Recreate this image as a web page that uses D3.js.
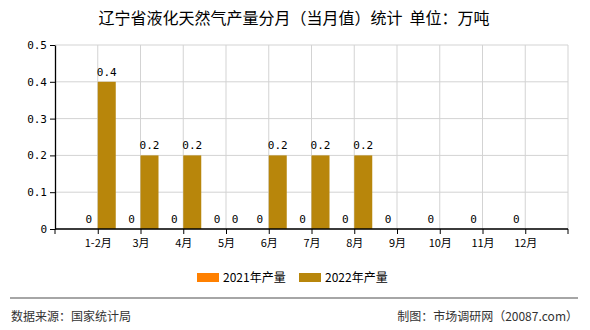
<!DOCTYPE html>
<html>
<head>
<meta charset="utf-8">
<script src="https://cdn.jsdelivr.net/npm/d3@7"></script>
<style>
  body { margin: 0; background: #fff; }
  text { font-family: "Noto Sans CJK SC", sans-serif; }
  .mono { font-family: "DejaVu Sans Mono", "Noto Sans CJK SC", monospace; }
</style>
</head>
<body>
<script>
const title = "辽宁省液化天然气产量分月（当月值）统计  单位：万吨";

var months = ["1-2月", "3月", "4月", "5月", "6月", "7月", "8月", "9月", "10月", "11月", "12月"];
var seriesNames = ["2021年产量", "2022年产量"];
var values2021 = [0, 0, 0, 0, 0, 0, 0, 0, 0, 0, 0];
var values2022 = [0.4, 0.2, 0.2, 0, 0.2, 0.2, 0.2];
var yTicks = [0, 0.1, 0.2, 0.3, 0.4, 0.5];
var colors = ["#ff8000", "#b8860b"];

var width = 590, height = 330;
var margin = {left: 55, right: 22, top: 45, bottom: 101};

var svg = d3.select("body").append("svg")
  .attr("width", width)
  .attr("height", height);

var x = d3.scalePoint()
  .domain(months)
  .range([margin.left, width - margin.right])
  .padding(1);

var y = d3.scaleLinear()
  .domain([0, 0.5])
  .range([height - margin.bottom, margin.top]);

var barW = 18;

// grid
var grid = svg.append("g");
grid.selectAll("line.h").data(yTicks).enter().append("line")
  .attr("x1", margin.left).attr("x2", width - margin.right)
  .attr("y1", d => y(d)).attr("y2", d => y(d))
  .attr("stroke", "#d3d3d3");
grid.selectAll("line.v").data(months).enter().append("line")
  .attr("x1", d => x(d)).attr("x2", d => x(d))
  .attr("y1", margin.top).attr("y2", y(0))
  .attr("stroke", "#d3d3d3");
grid.append("line")
  .attr("x1", width - margin.right).attr("x2", width - margin.right)
  .attr("y1", margin.top).attr("y2", y(0))
  .attr("stroke", "#d3d3d3");

// bars
var series = [values2021, values2022];
series.forEach(function(vals, s) {
  var g = svg.append("g");
  var data = vals.map((v, i) => ({m: months[i], v: v}));
  g.selectAll("rect").data(data).enter().append("rect")
    .attr("x", d => s === 0 ? x(d.m) - barW : x(d.m))
    .attr("y", d => y(d.v))
    .attr("width", barW)
    .attr("height", d => y(0) - y(d.v))
    .attr("fill", colors[s]);
  g.selectAll("text").data(data).enter().append("text")
    .attr("class", "mono")
    .attr("x", d => (s === 0 ? x(d.m) - barW : x(d.m)) + barW / 2)
    .attr("y", d => y(d.v) - 6)
    .attr("text-anchor", "middle")
    .attr("font-size", 11)
    .attr("fill", "#000")
    .text(d => String(d.v));
});

// axes
var yAxis = svg.append("g")
  .attr("transform", "translate(" + margin.left + ",0)")
  .call(d3.axisLeft(y).tickValues(yTicks).tickSize(5).tickSizeOuter(0).tickFormat(d3.format(".1~f")));
yAxis.selectAll("text").attr("class", "mono").attr("font-size", 11).attr("fill", "#000");
yAxis.selectAll("line,path").attr("stroke", "#000");
yAxis.select("path").attr("stroke-width", 1.3);

var xAxis = svg.append("g")
  .attr("transform", "translate(0," + y(0) + ")")
  .call(d3.axisBottom(x).tickSize(5).tickSizeOuter(0));
xAxis.selectAll("text").attr("font-size", 11).attr("fill", "#000").attr("dy", "0.9em");
xAxis.selectAll("line,path").attr("stroke", "#000");
xAxis.select("path").attr("d", "M" + margin.left + ",0H" + (width - margin.right)).attr("stroke-width", 1.3);
xAxis.append("line").attr("x1", margin.left).attr("x2", margin.left).attr("y1", 0).attr("y2", 5).attr("stroke", "#000");
xAxis.append("line").attr("x1", width - margin.right).attr("x2", width - margin.right).attr("y1", 0).attr("y2", 5).attr("stroke", "#000");

// title
svg.append("text")
  .attr("x", 294).attr("y", 24)
  .attr("text-anchor", "middle")
  .attr("font-size", 16)
  .attr("fill", "#000")
  .style("white-space", "pre")
  .text(title);

// legend
var legendX = [197, 299];
seriesNames.forEach(function(n, i) {
  svg.append("rect").attr("x", legendX[i]).attr("y", 273).attr("width", 22).attr("height", 9).attr("fill", colors[i]);
  svg.append("text").attr("x", legendX[i] + 26).attr("y", 281.5)
    .attr("font-size", 12).attr("fill", "#000").text(n);
});

// footer
svg.append("line").attr("x1", 10).attr("x2", 578).attr("y1", 298).attr("y2", 298)
  .attr("stroke", "#888").attr("stroke-width", 1.5);
svg.append("text").attr("x", 11).attr("y", 321).attr("font-size", 12).attr("fill", "#333")
  .text("数据来源：国家统计局");
svg.append("text").attr("x", 578).attr("y", 321).attr("font-size", 12).attr("fill", "#333")
  .attr("text-anchor", "end").text("制图：市场调研网（20087.com）");
</script>
</body>
</html>
